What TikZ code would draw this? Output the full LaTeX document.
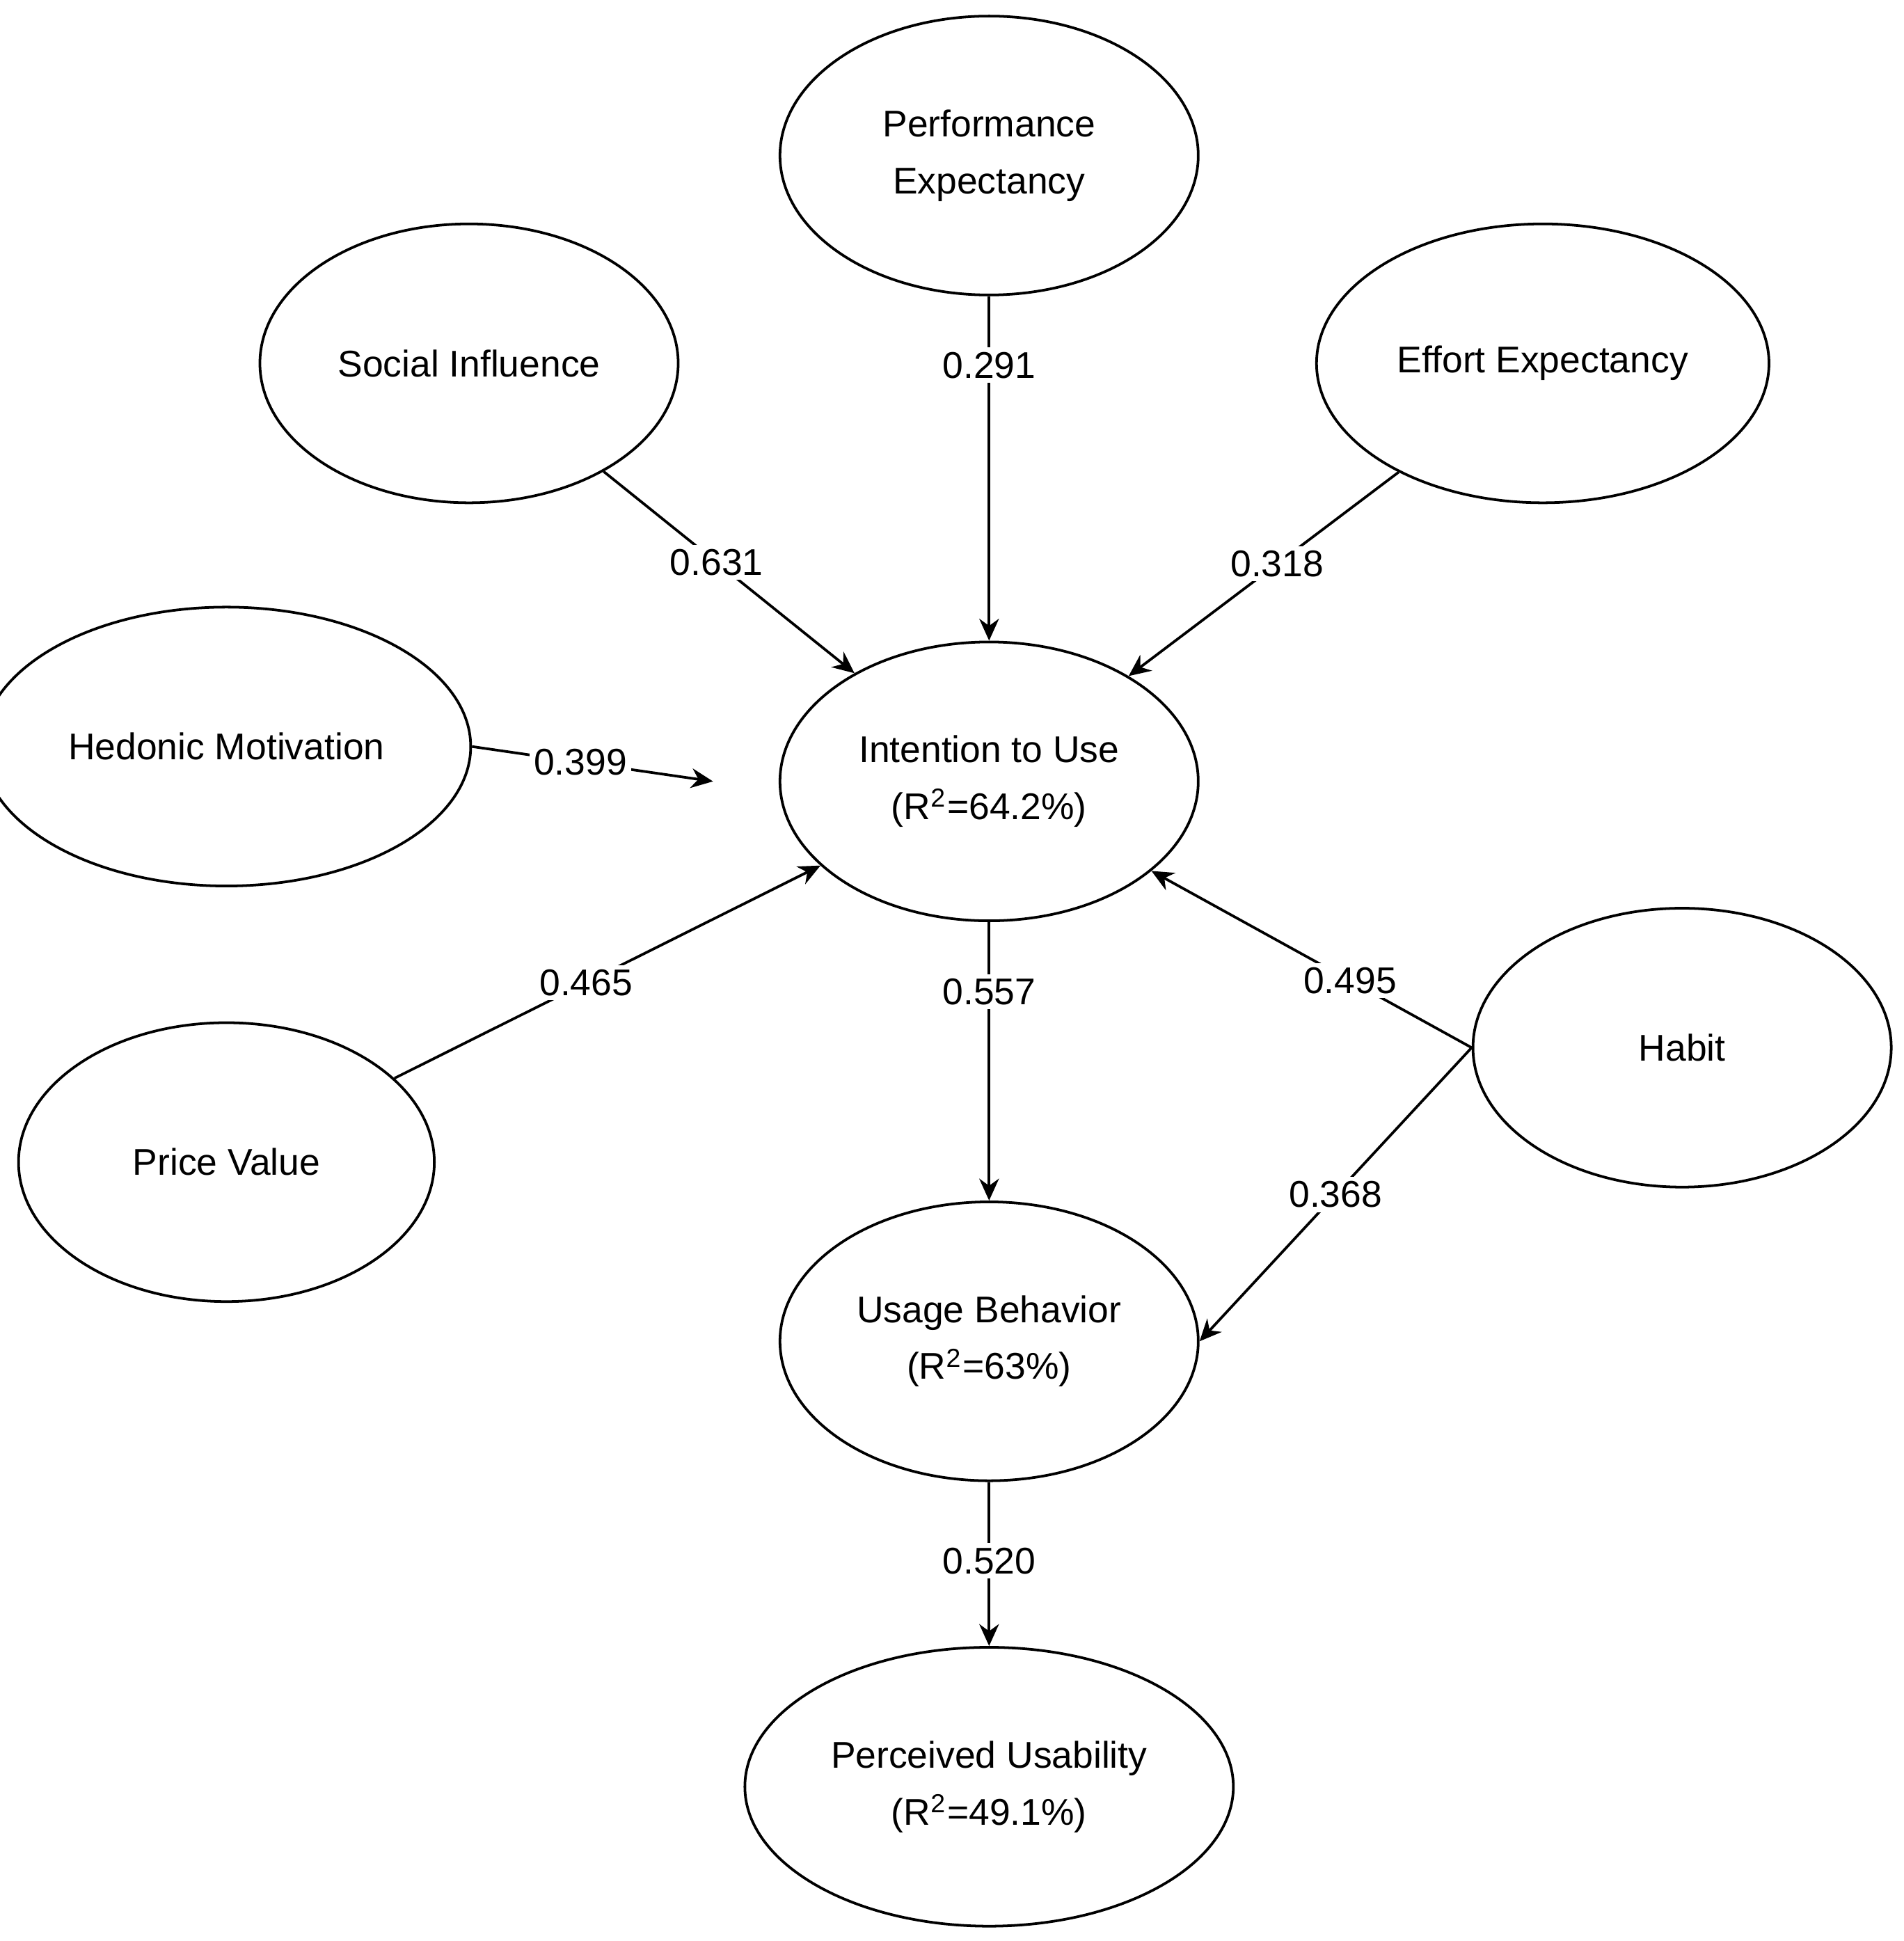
\documentclass[tikz,border=0pt]{standalone}
\usepackage{fontspec}
\setmainfont{Liberation Sans}
\usetikzlibrary{arrows.meta,shapes.geometric}
\begin{document}
\begin{tikzpicture}[x=0.01cm,y=-0.01cm,
  el/.style={draw,line width=0.6pt,ellipse,minimum width=3.36cm,minimum height=2.24cm,align=center,font=\fontsize{8.5}{13}\selectfont},
  ar/.style={line width=0.6pt,-{Stealth[length=5pt,width=4.5pt]}},
  lb/.style={fill=white,inner sep=1pt,font=\fontsize{8.5}{10}\selectfont}]
\useasboundingbox (0,0) rectangle (1530,1560);
\node[el] (pe) at (795,125) {Performance\\Expectancy};
\node[el] (si) at (377,292) {Social Influence};
\node[el] (ee) at (1240,292) {Effort Expectancy};
\node[el,minimum width=3.34cm] (hm) at (182,600) {Hedonic Motivation};
\node[el] (iu) at (795,628) {Intention to Use\\(R\textsuperscript{2}=64.2\%)};
\node[el,minimum width=3.34cm] (pv) at (182,934) {Price Value};
\node[el] (hb) at (1352,842) {Habit};
\node[el] (ub) at (795,1078) {Usage Behavior\\(R\textsuperscript{2}=63\%)};
\node[el] (pu) at (795,1436) {Perceived Usability\\(R\textsuperscript{2}=49.1\%)};
\draw[ar] (pe) -- node[lb,pos=0.2]{0.291} (iu);
\draw[ar] (si) -- node[lb,pos=0.45]{0.631} (iu);
\draw[ar] (ee) -- node[lb,pos=0.45]{0.318} (iu);
\draw[ar] (hm.east) -- node[lb,pos=0.45]{0.399} ([xshift=-15]iu.west);
\draw[ar] (pv) -- node[lb,pos=0.45]{0.465} (iu);
\draw[ar] (hb.west) -- node[lb,pos=0.38]{0.495} (iu);
\draw[ar] (hb.west) -- node[lb,pos=0.5]{0.368} (ub.east);
\draw[ar] (iu) -- node[lb,pos=0.25]{0.557} (ub);
\draw[ar] (ub) -- node[lb,pos=0.48]{0.520} (pu);
\end{tikzpicture}
\end{document}
